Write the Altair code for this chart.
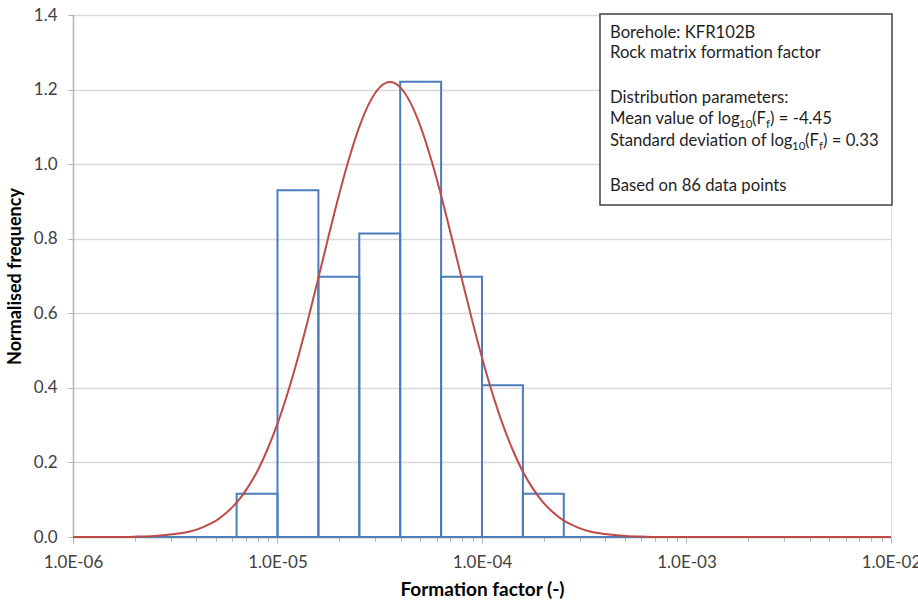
import altair as alt
import pandas as pd

# Histogram bins (formation factor, lower/upper edge) and normalised frequency
bin_lo = [6.31e-6, 1.0e-5, 1.585e-5, 2.512e-5, 3.981e-5, 6.31e-5, 1.0e-4, 1.585e-4]
bin_hi = [1.0e-5, 1.585e-5, 2.512e-5, 3.981e-5, 6.31e-5, 1.0e-4, 1.585e-4, 2.512e-4]
freq = [0.116, 0.930, 0.698, 0.814, 1.221, 0.698, 0.407, 0.116]

# Fitted log-normal curve (log10 of formation factor, normalised frequency)
curve_log10 = [-6.0, -5.8, -5.7, -5.6, -5.5, -5.45, -5.4, -5.35, -5.3, -5.25, -5.2, -5.15,
               -5.1, -5.05, -5.0, -4.95, -4.9, -4.85, -4.8, -4.75, -4.7, -4.65, -4.6, -4.55,
               -4.5, -4.45, -4.4, -4.35, -4.3, -4.25, -4.2, -4.15, -4.1, -4.05, -4.0, -3.95,
               -3.9, -3.85, -3.8, -3.75, -3.7, -3.65, -3.6, -3.55, -3.5, -3.45, -3.4, -3.3,
               -3.2, -3.1, -2.0]
curve_freq = [0.000, 0.000, 0.001, 0.003, 0.008, 0.012, 0.019, 0.030, 0.044, 0.065, 0.092, 0.129,
              0.175, 0.234, 0.304, 0.387, 0.481, 0.585, 0.695, 0.807, 0.916, 1.015, 1.100, 1.165,
              1.206, 1.220, 1.206, 1.165, 1.100, 1.015, 0.916, 0.807, 0.695, 0.585, 0.481, 0.387,
              0.304, 0.234, 0.175, 0.129, 0.092, 0.065, 0.044, 0.030, 0.019, 0.012, 0.008, 0.003,
              0.001, 0.000, 0.000]

major_ticks = [1e-6, 1e-5, 1e-4, 1e-3, 1e-2]
minor_ticks = [m * 10.0 ** e for e in range(-6, -2) for m in range(2, 10)]
y_ticks = [0.0, 0.2, 0.4, 0.6, 0.8, 1.0, 1.2, 1.4]

FONT = "Lato"
BLUE = "#4a7ebb"
RED = "#be4b48"
AXIS_GRAY = "#b3b3b3"
LABEL = "#404040"
TEXT = "#1f1f1f"

hist_df = pd.DataFrame({"lo": bin_lo, "hi": bin_hi, "f": freq})
curve_df = pd.DataFrame({"ff": [10.0 ** v for v in curve_log10], "f": curve_freq})
base_df = pd.DataFrame({"lo": [major_ticks[0]], "hi": [major_ticks[-1]], "f": [0.0]})

xscale = alt.Scale(type="log", domain=[1e-6, 1e-2], nice=False)
yscale = alt.Scale(domain=[0, 1.4], nice=False, zero=True)

major_axis = alt.Axis(
    orient="bottom", values=major_ticks,
    labelExpr="'1.0E-0' + format(-log(datum.value)/LN10, '.0f')",
    title="Formation factor (-)", titleFont=FONT, titleFontSize=19, titleFontWeight="bold",
    titleColor="#000000", titlePadding=10,
    labelFont=FONT, labelFontSize=17, labelColor=LABEL, labelPadding=11,
    labelFlush=False, labelOverlap=False,
    tickSize=6, tickColor=AXIS_GRAY, domainColor=AXIS_GRAY, domainWidth=1.5, grid=False,
)
minor_axis = alt.Axis(
    orient="bottom", values=minor_ticks, labels=False, title=None, domain=False,
    tickSize=4, tickColor=AXIS_GRAY, grid=False,
)
y_axis = alt.Axis(
    values=y_ticks, format=".1f", title="Normalised frequency",
    titleFont=FONT, titleFontSize=18, titleFontWeight="bold", titleColor="#000000",
    titlePadding=9,
    labelFont=FONT, labelFontSize=17, labelColor=LABEL, labelPadding=11,
    tickSize=5, tickColor=AXIS_GRAY, domainColor=AXIS_GRAY, domainWidth=1.5,
    grid=True, gridColor="#d9d9d9", gridWidth=1.5,
)

baseline = alt.Chart(base_df).mark_rule(color=BLUE, strokeWidth=2).encode(
    x=alt.X("lo:Q", scale=xscale, axis=major_axis),
    x2="hi:Q",
    y=alt.Y("f:Q", scale=yscale, axis=y_axis),
)

minor = alt.Chart(base_df).mark_rule(opacity=0).encode(
    x=alt.X("lo:Q", scale=xscale, axis=minor_axis),
    y=alt.Y("f:Q", scale=yscale, axis=y_axis),
)

bars = alt.Chart(hist_df).mark_rect(filled=False, stroke=BLUE, strokeWidth=2).encode(
    x=alt.X("lo:Q", scale=xscale, axis=None),
    x2="hi:Q",
    y=alt.Y("f:Q", scale=yscale, axis=y_axis),
    y2=alt.datum(0),
)

curve = alt.Chart(curve_df).mark_line(color=RED, strokeWidth=2, interpolate="monotone").encode(
    x=alt.X("ff:Q", scale=xscale, axis=None),
    y=alt.Y("f:Q", scale=yscale, axis=y_axis),
)

dummy = pd.DataFrame({"a": [0]})

box = alt.Chart(dummy).mark_rect(fill="white", stroke="#404040", strokeWidth=1.5).encode(
    x=alt.value(527), x2=alt.value(819), y=alt.value(-1), y2=alt.value(190),
)

BOX_FS = 16.7
SUB_FS = 11.5


def txt(s, px, py, size=BOX_FS):
    return alt.Chart(dummy).mark_text(
        text=s, align="left", baseline="alphabetic", font=FONT, fontSize=size, color=TEXT
    ).encode(x=alt.value(px), y=alt.value(py))


texts = [
    txt("Borehole: KFR102B", 537, 23),
    txt("Rock matrix formation factor", 537, 43),
    txt("Distribution parameters:", 537, 88),
    txt("Mean value of log", 537, 109),
    txt("10", 666, 113, SUB_FS),
    txt("(F", 679, 109),
    txt("f", 693, 113, SUB_FS),
    txt(") = -4.45", 697, 109),
    txt("Standard deviation of log", 537, 131),
    txt("10", 719, 135, SUB_FS),
    txt("(F", 732, 131),
    txt("f", 746, 135, SUB_FS),
    txt(") = 0.33", 750, 131),
    txt("Based on 86 data points", 537, 176),
]

chart = alt.layer(baseline, minor, bars, curve, box, *texts).resolve_axis(
    x="independent"
).properties(
    width=818, height=522,
    autosize=alt.AutoSizeParams(type="none"),
    padding={"left": 73, "top": 15, "right": 27, "bottom": 64},
).configure_view(stroke=None).configure(background="white")

chart.save("out.html", embed_options={"renderer": "svg", "actions": False})
